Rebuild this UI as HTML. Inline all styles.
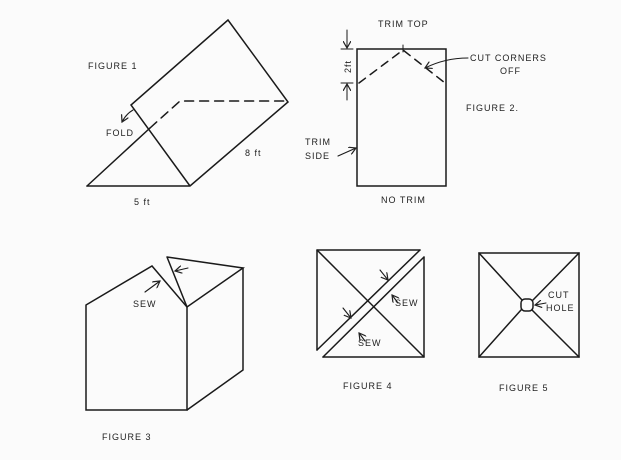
<!DOCTYPE html>
<html><head><style>
html,body{margin:0;padding:0;background:#fbfbfb;}
svg{display:block}
text{font-family:"Liberation Sans",sans-serif;font-size:9px;fill:#222;letter-spacing:1px}
</style></head><body>
<svg width="621" height="460" viewBox="0 0 621 460" xmlns="http://www.w3.org/2000/svg">
<defs><marker id="a" markerWidth="8" markerHeight="8" refX="7" refY="4" orient="auto" markerUnits="userSpaceOnUse"><path d="M0,0 L7,4 L0,8" fill="none" stroke="#222" stroke-width="1.2"/></marker></defs>
<g stroke="#1a1a1a" stroke-width="1.5" fill="none" stroke-linecap="round">
<path d="M87,186 L190,186 L288,102 L228,20 L131,105 L190,186"/>
<path d="M87,186 L150,128"/>
<path d="M150,128 L180,101 L288,101" stroke-dasharray="9,6"/>
<path d="M133,110 Q126,114 122,122" stroke-width="1.1" marker-end="url(#a)"/>
<rect x="357" y="49" width="89" height="137"/>
<path d="M359,83 L403,50 L445,83" stroke-dasharray="8,6"/>
<path d="M403,45 L403,52" stroke-width="1"/>
<path d="M347,30 L347,48" stroke-width="1" marker-end="url(#a)"/>
<path d="M347,100 L347,84" stroke-width="1" marker-end="url(#a)"/>
<path d="M341,49 L353,49 M341,83 L353,83" stroke-width="1"/>
<path d="M468,58 Q445,58 425,68" stroke-width="1.1" marker-end="url(#a)"/>
<path d="M338,156 L356,148" stroke-width="1.1" marker-end="url(#a)"/>
<path d="M86,305 L86,410 L187,410 L187,307 L152,266 L86,305"/>
<path d="M167,257 L187,307 L243,268 L167,257"/>
<path d="M243,268 L243,370 L187,410"/>
<path d="M145,292 L160,281" stroke-width="1.1" marker-end="url(#a)"/>
<path d="M188,268 L175,271" stroke-width="1.1" marker-end="url(#a)"/>
<path d="M317,250 L420,250 M317,250 L317,350 M323,357 L424,357 M424,257 L424,357"/>
<path d="M317,250 L424,357"/>
<path d="M317,350 L420,250 M323,357 L424,257"/>
<path d="M380,270 L388,280" stroke-width="1.1" marker-end="url(#a)"/>
<path d="M398,303 L392,295" stroke-width="1.1" marker-end="url(#a)"/>
<path d="M343,308 L351,318" stroke-width="1.1" marker-end="url(#a)"/>
<path d="M365,341 L359,333" stroke-width="1.1" marker-end="url(#a)"/>
<rect x="479" y="253" width="100" height="104"/>
<path d="M479,253 L522,300 M532,310 L579,357 M579,253 L533,300 M521,310 L479,357"/>
<rect x="521" y="299" width="12" height="12" rx="4"/>
<path d="M546,303 L535,305" stroke-width="1.1" marker-end="url(#a)"/>
</g>
<text x="88" y="69">FIGURE 1</text>
<text x="106" y="136" font-size="8">FOLD</text>
<text x="245" y="156">8 ft</text>
<text x="134" y="205">5 ft</text>
<text x="378" y="27" font-size="8">TRIM TOP</text>
<text x="0" y="0" transform="translate(351,73) rotate(-90)" font-size="8">2ft</text>
<text x="470" y="61" font-size="8">CUT CORNERS</text>
<text x="500" y="74" font-size="8">OFF</text>
<text x="466" y="111">FIGURE 2.</text>
<text x="305" y="145" font-size="8">TRIM</text>
<text x="305" y="159" font-size="8">SIDE</text>
<text x="381" y="203" font-size="8">NO TRIM</text>
<text x="133" y="307" font-size="8">SEW</text>
<text x="395" y="306" font-size="8">SEW</text>
<text x="358" y="346" font-size="8">SEW</text>
<text x="548" y="298" font-size="8">CUT</text>
<text x="546" y="311" font-size="8">HOLE</text>
<text x="343" y="389">FIGURE 4</text>
<text x="499" y="391">FIGURE 5</text>
<text x="102" y="440">FIGURE 3</text>
</svg>
</body></html>
